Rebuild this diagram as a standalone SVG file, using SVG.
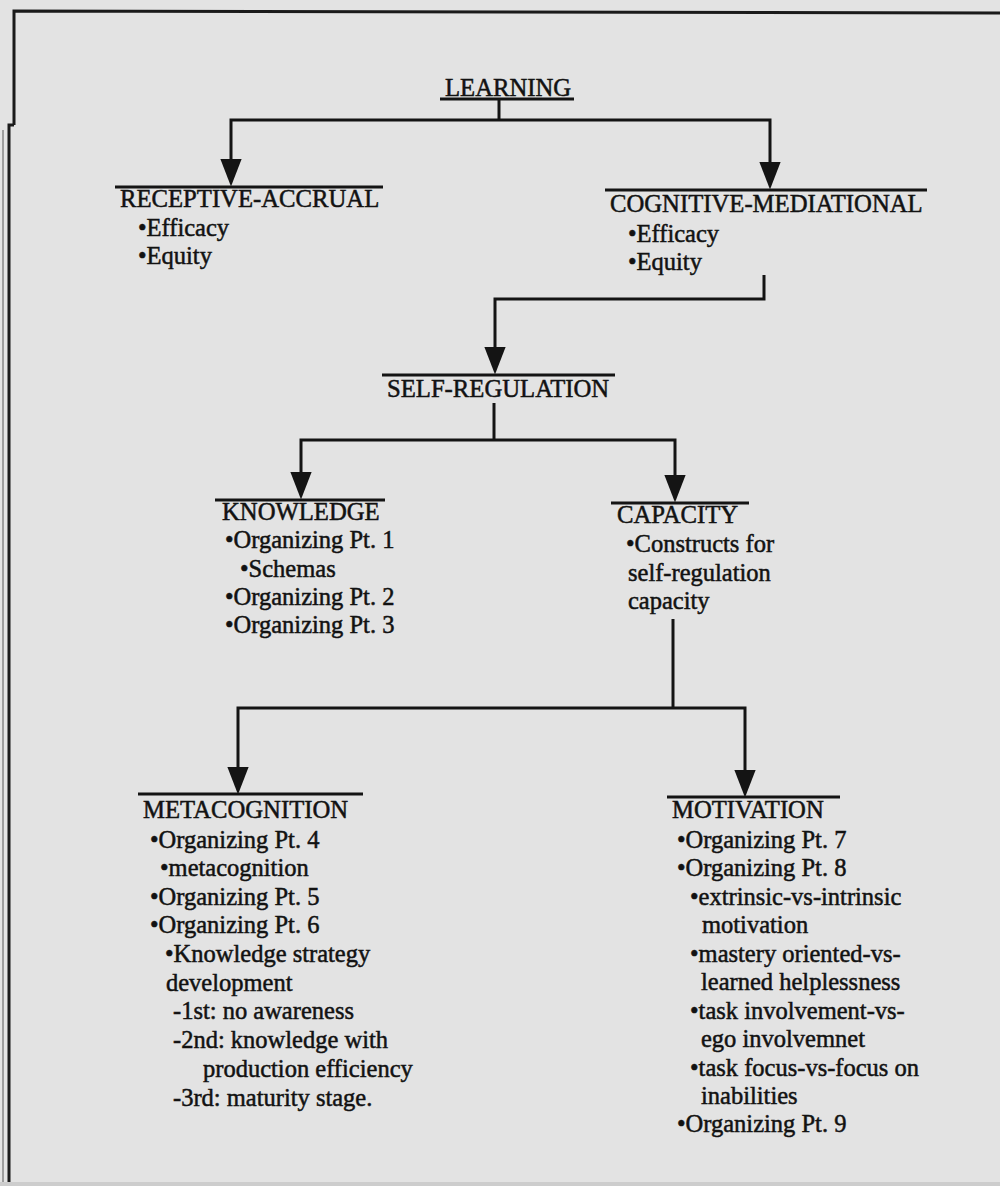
<svg xmlns="http://www.w3.org/2000/svg" width="1000" height="1186" viewBox="0 0 1000 1186">
<defs>
<style>
.bg{fill:#e3e3e3}
.frame{fill:none;stroke:#1a1a1a;stroke-width:3}
.conn{fill:none;stroke:#141414;stroke-width:3;stroke-linejoin:miter}
.ul{stroke:#141414;stroke-width:3}
text{font-family:"Liberation Serif","Times New Roman",serif;fill:#121212;stroke:#121212;stroke-width:0.5}
.h{font-size:24.7px}
.i{font-size:24.5px}
</style>
<marker id="arr" markerUnits="userSpaceOnUse" markerWidth="28" markerHeight="22" viewBox="0 0 26 20" refX="18" refY="10" orient="auto">
<path d="M0,0 L26,10 L0,20 z" fill="#141414"/>
</marker>
</defs>
<rect class="bg" x="0" y="0" width="1000" height="1186"/>
<g id="frame">
<path class="frame" d="M14,125 V11 L1000,13"/>
<path class="frame" d="M14,125 H9 V1186"/>
<path d="M3,130 V1186" fill="none" stroke="#555" stroke-width="1"/>
<rect x="0" y="1182" width="1000" height="4" fill="#cdcdcd"/>
</g>
<g id="connectors">
<path class="conn" d="M499,99 V120"/>
<path class="conn" d="M499,120 H231 V178" marker-end="url(#arr)"/>
<path class="conn" d="M499,120 H770 V181" marker-end="url(#arr)"/>
<path class="conn" d="M764,275 V299 H495 V366" marker-end="url(#arr)"/>
<path class="conn" d="M494,403 V440"/>
<path class="conn" d="M494,440 H301 V491" marker-end="url(#arr)"/>
<path class="conn" d="M494,440 H675 V494" marker-end="url(#arr)"/>
<path class="conn" d="M673,619 V708"/>
<path class="conn" d="M673,708 H238 V786" marker-end="url(#arr)"/>
<path class="conn" d="M673,708 H745 V789" marker-end="url(#arr)"/>
</g>
<g id="learning">
<line class="ul" x1="440" y1="99" x2="574" y2="99"/>
<text class="h" x="445" y="96">LEARNING</text>
</g>
<g id="receptive-accrual">
<line class="ul" x1="115" y1="187" x2="383" y2="187"/>
<text class="h" x="120" y="207">RECEPTIVE-ACCRUAL</text>
<text class="i" x="138" y="236">•Efficacy</text>
<text class="i" x="138" y="264">•Equity</text>
</g>
<g id="cognitive-mediational">
<line class="ul" x1="605" y1="190" x2="927" y2="190"/>
<text class="h" x="610" y="212">COGNITIVE-MEDIATIONAL</text>
<text class="i" x="628" y="242">•Efficacy</text>
<text class="i" x="628" y="270">•Equity</text>
</g>
<g id="self-regulation">
<line class="ul" x1="382" y1="375" x2="615" y2="375"/>
<text class="h" x="387" y="397">SELF-REGULATION</text>
</g>
<g id="knowledge">
<line class="ul" x1="215" y1="500" x2="385" y2="500"/>
<text class="h" x="222" y="520">KNOWLEDGE</text>
<text class="i" x="225" y="548">•Organizing Pt. 1</text>
<text class="i" x="240" y="577">•Schemas</text>
<text class="i" x="225" y="605">•Organizing Pt. 2</text>
<text class="i" x="225" y="633">•Organizing Pt. 3</text>
</g>
<g id="capacity">
<line class="ul" x1="611" y1="503" x2="749" y2="503"/>
<text class="h" x="617" y="523">CAPACITY</text>
<text class="i" x="626" y="552">•Constructs for</text>
<text class="i" x="628" y="581">self-regulation</text>
<text class="i" x="628" y="609">capacity</text>
</g>
<g id="metacognition">
<line class="ul" x1="138" y1="794" x2="363" y2="794"/>
<text class="h" x="143" y="818">METACOGNITION</text>
<text class="i" x="150" y="848">•Organizing Pt. 4</text>
<text class="i" x="160" y="876">•metacognition</text>
<text class="i" x="150" y="905">•Organizing Pt. 5</text>
<text class="i" x="150" y="933">•Organizing Pt. 6</text>
<text class="i" x="165" y="962">•Knowledge strategy</text>
<text class="i" x="166" y="991">development</text>
<text class="i" x="173" y="1019">-1st: no awareness</text>
<text class="i" x="173" y="1048">-2nd: knowledge with</text>
<text class="i" x="203" y="1077">production efficiency</text>
<text class="i" x="173" y="1106">-3rd: maturity stage.</text>
</g>
<g id="motivation">
<line class="ul" x1="667" y1="797" x2="840" y2="797"/>
<text class="h" x="672" y="818">MOTIVATION</text>
<text class="i" x="677" y="848">•Organizing Pt. 7</text>
<text class="i" x="677" y="876">•Organizing Pt. 8</text>
<text class="i" x="690" y="905">•extrinsic-vs-intrinsic</text>
<text class="i" x="702" y="933">motivation</text>
<text class="i" x="690" y="962">•mastery oriented-vs-</text>
<text class="i" x="701" y="990">learned helplessness</text>
<text class="i" x="690" y="1019">•task involvement-vs-</text>
<text class="i" x="701" y="1047">ego involvemnet</text>
<text class="i" x="690" y="1076">•task focus-vs-focus on</text>
<text class="i" x="701" y="1104">inabilities</text>
<text class="i" x="677" y="1132">•Organizing Pt. 9</text>
</g>
</svg>
